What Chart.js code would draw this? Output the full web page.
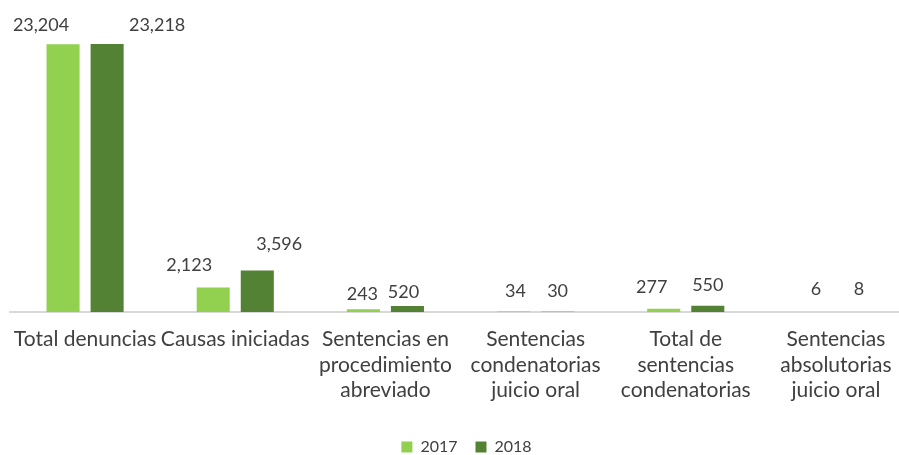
<!DOCTYPE html>
<html>
<head>
<meta charset="utf-8">
<script src="https://cdn.jsdelivr.net/npm/chart.js@4.4.1/dist/chart.umd.min.js"></script>
<style>
  html, body { margin: 0; padding: 0; background: #ffffff; overflow: hidden; }
  #wrap { width: 922px; height: 455px; }
</style>
</head>
<body>
<div id="wrap"><canvas id="chart" width="922" height="455"></canvas></div>
<script>
// Categories (multi-line labels as arrays)
const categories = [
  "Total denuncias",
  "Causas iniciadas",
  ["Sentencias en", "procedimiento", "abreviado"],
  ["Sentencias", "condenatorias", "juicio oral"],
  ["Total de", "sentencias", "condenatorias"],
  ["Sentencias", "absolutorias", "juicio oral"]
];
const seriesNames = ["2017", "2018"];
const values2017 = [23204, 2123, 243, 34, 277, 6];
const values2018 = [23218, 3596, 520, 30, 550, 8];

const textColor = "#404040";
const fontFamily = "Lato, 'Open Sans', sans-serif";

// Value labels drawn above each bar, nudged sideways where the bars are tall
const valueLabelPlugin = {
  id: "valueLabels",
  afterDatasetsDraw(chart, args, opts) {
    const ctx = chart.ctx;
    ctx.save();
    ctx.font = opts.font;
    ctx.fillStyle = opts.color;
    ctx.textAlign = "center";
    ctx.textBaseline = "middle";
    chart.data.datasets.forEach((ds, di) => {
      const meta = chart.getDatasetMeta(di);
      meta.data.forEach((bar, i) => {
        const off = opts.offsets[di][i];
        const txt = ds.data[i].toLocaleString("en-US");
        ctx.fillText(txt, bar.x + off[0], bar.y + off[1]);
      });
    });
    ctx.restore();
  }
};

// Slide the legend a few pixels to the right of the plot centre
const legendShiftPlugin = {
  id: "legendShift",
  afterLayout(chart, args, opts) {
    if (chart.legend) {
      chart.legend.left += opts.dx;
      chart.legend.right += opts.dx;
    }
  }
};

new Chart(document.getElementById("chart"), {
  type: "bar",
  data: {
    labels: categories,
    datasets: [
      { label: seriesNames[0], data: values2017, backgroundColor: "#92D050",
        categoryPercentage: 0.587, barPercentage: 0.75 },
      { label: seriesNames[1], data: values2018, backgroundColor: "#548235",
        categoryPercentage: 0.587, barPercentage: 0.75 }
    ]
  },
  options: {
    responsive: false,
    devicePixelRatio: 1,
    animation: false,
    layout: { padding: { top: 23.5, left: 10, right: 11, bottom: -10 } },
    scales: {
      x: {
        grid: { display: false, drawTicks: false },
        border: { display: true, color: "#d9d9d9", width: 2 },
        ticks: {
          color: textColor,
          font: { family: fontFamily, size: 21, lineHeight: 1.2 },
          padding: 15,
          autoSkip: false,
          maxRotation: 0,
          minRotation: 0
        },
        afterFit(scale) {
          scale.height = 109;
          // edge labels may spill a little past the axis ends
          scale.paddingLeft = 0;
          scale.paddingRight = 0;
        }
      },
      y: {
        display: false,
        min: 0,
        max: 25000
      }
    },
    plugins: {
      legend: {
        position: "bottom",
        labels: {
          color: textColor,
          font: { family: fontFamily, size: 16 },
          boxWidth: 11,
          boxHeight: 11,
          padding: 18
        }
      },
      legendShift: { dx: 6 },
      tooltip: { enabled: false },
      valueLabels: {
        font: "18px " + fontFamily,
        color: textColor,
        offsets: [
          [[-22, -19], [-24, -22], [-1, -15], [2, -20], [-12, -22], [2, -23]],
          [[50, -19], [22, -26], [-4, -14], [0, -20], [0, -20], [1, -23]]
        ]
      }
    }
  },
  plugins: [valueLabelPlugin, legendShiftPlugin]
});
</script>
</body>
</html>
